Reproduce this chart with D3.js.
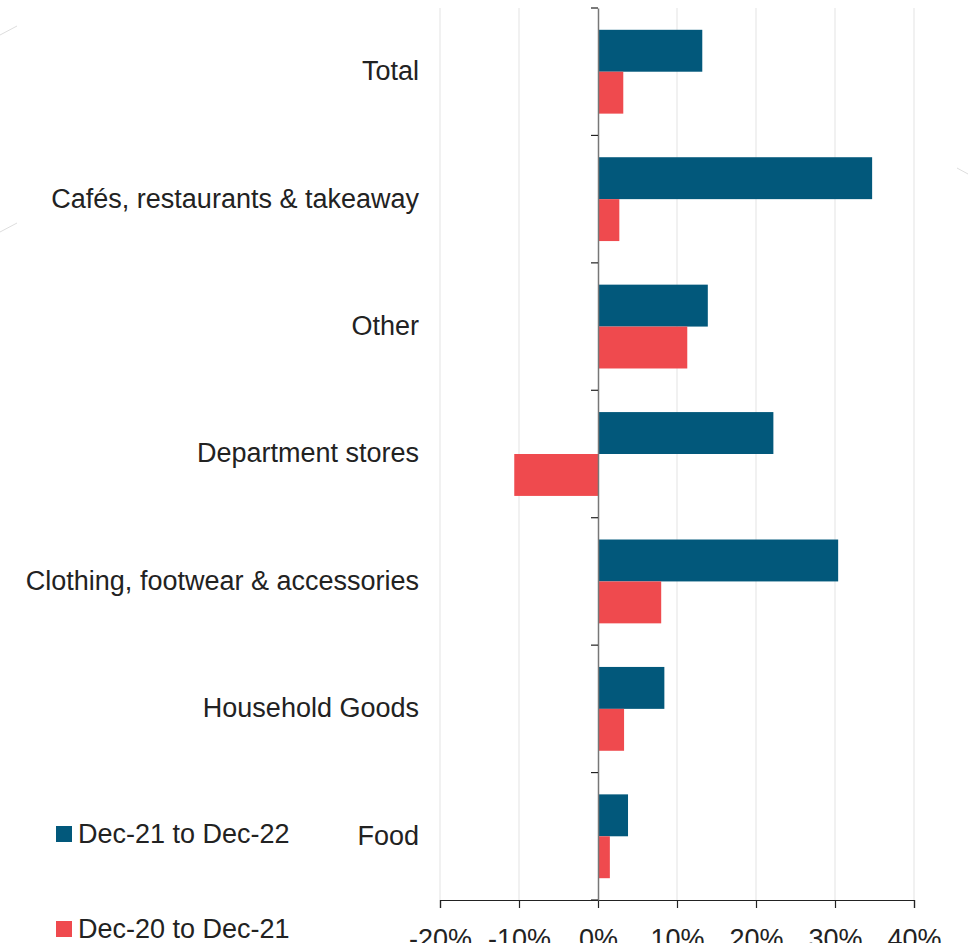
<!DOCTYPE html>
<html>
<head>
<meta charset="utf-8">
<script src="https://cdn.jsdelivr.net/npm/d3@7"></script>
<style>
  body { margin: 0; background: #fff; }
  svg text { font-family: "Liberation Sans", Arial, sans-serif; font-weight: 400; fill: #222; }
</style>
</head>
<body>
<div class="chart"></div>
<script>
const categories = ['Total', 'Cafés, restaurants & takeaway', 'Other', 'Department stores',
                    'Clothing, footwear & accessories', 'Household Goods', 'Food']
const seriesNames = ['Dec-21 to Dec-22', 'Dec-20 to Dec-21']
const recent = [13.2, 34.7, 13.9, 22.2, 30.4, 8.4, 3.8]
const previous = [3.2, 2.7, 11.3, -10.6, 8.0, 3.3, 1.5]
const xTicks = [-20, -10, 0, 10, 20, 30, 40]

const colors = ['#02587b', '#ef4a4e']

let w = 968,
    h = 943

const svg = d3.select('.chart')
              .append('svg')
              .attr('width', w)
              .attr('height', h)

// faint background decoration
const deco = [[0, 35, 17, 26], [0, 232, 17, 223], [957, 168, 968, 174]]
svg.selectAll('.deco')
   .data(deco)
   .enter()
   .append('line')
   .attr('x1', d => d[0]).attr('y1', d => d[1])
   .attr('x2', d => d[2]).attr('y2', d => d[3])
   .attr('stroke', '#ddd')
   .attr('stroke-width', 1)

const xScale = d3.scaleLinear()
                 .domain([-20, 40])
                 .range([440, 914])

const yScale = d3.scaleBand()
                 .domain(categories)
                 .range([8, 900])
                 .paddingInner(0)
                 .paddingOuter(0)

const inner = d3.scaleBand()
                .domain([0, 1])
                .range([0, yScale.bandwidth()])
                .paddingInner(0)
                .paddingOuter(0.52)

// gridlines
svg.append('g')
   .selectAll('line')
   .data(xTicks.filter(t => t !== 0))
   .enter()
   .append('line')
   .attr('x1', d => xScale(d))
   .attr('x2', d => xScale(d))
   .attr('y1', 8)
   .attr('y2', 900)
   .attr('stroke', '#ececec')
   .attr('stroke-width', 1.5)

const rows = categories.map((c, i) => ({cat: c, vals: [recent[i], previous[i]]}))

const groups = svg.selectAll('.row')
                  .data(rows)
                  .enter()
                  .append('g')
                  .attr('transform', d => `translate(0,${yScale(d.cat)})`)

groups.selectAll('rect')
      .data(d => d.vals.map((v, k) => ({v, k})))
      .enter()
      .append('rect')
      .attr('x', d => xScale(Math.min(0, d.v)))
      .attr('width', d => Math.abs(xScale(d.v) - xScale(0)))
      .attr('y', d => inner(d.k))
      .attr('height', inner.bandwidth())
      .attr('fill', d => colors[d.k])

// x axis
const xAxis = d3.axisBottom(xScale)
                .tickValues(xTicks)
                .tickSize(8)
                .tickFormat(d => d + '%')
const gx = svg.append('g')
              .attr('transform', 'translate(0,900)')
              .call(xAxis)
gx.select('.domain').attr('stroke', '#222').attr('stroke-width', 1.2)
gx.selectAll('.tick line').attr('stroke', '#222').attr('stroke-width', 1.2)
gx.selectAll('.tick text')
  .attr('y', 29)
  .attr('font-size', 27)
  .style('font-family', '"Liberation Sans", Arial, sans-serif')
  .attr('fill', '#222')

// y axis at zero
const yAxis = d3.axisLeft(yScale).tickSize(0).tickFormat('')
const gy = svg.append('g')
              .attr('transform', `translate(${xScale(0)},0)`)
              .call(yAxis)
gy.select('.domain').attr('stroke', '#777').attr('stroke-width', 1.5)

const boundaries = categories.map(c => yScale(c)).concat([yScale.range()[1]])
gy.selectAll('.bound')
  .data(boundaries)
  .enter()
  .append('line')
  .attr('x1', -7)
  .attr('x2', 0)
  .attr('y1', d => d)
  .attr('y2', d => d)
  .attr('stroke', '#222')
  .attr('stroke-width', 1.2)

// category labels
svg.selectAll('.cat')
   .data(categories)
   .enter()
   .append('text')
   .attr('x', 419)
   .attr('y', d => yScale(d) + yScale.bandwidth() / 2 - 1)
   .attr('dy', '0.35em')
   .attr('text-anchor', 'end')
   .attr('font-size', 27)
   .text(d => d)

// legend
const legend = svg.append('g')
legend.selectAll('rect')
      .data(seriesNames)
      .enter()
      .append('rect')
      .attr('x', 56)
      .attr('y', (d, i) => 826 + i * 95)
      .attr('width', 16)
      .attr('height', 16)
      .attr('fill', (d, i) => colors[i])
legend.selectAll('text')
      .data(seriesNames)
      .enter()
      .append('text')
      .attr('x', 78)
      .attr('y', (d, i) => 834 + i * 95)
      .attr('dy', '0.35em')
      .attr('font-size', 27)
      .text(d => d)
</script>
</body>
</html>
